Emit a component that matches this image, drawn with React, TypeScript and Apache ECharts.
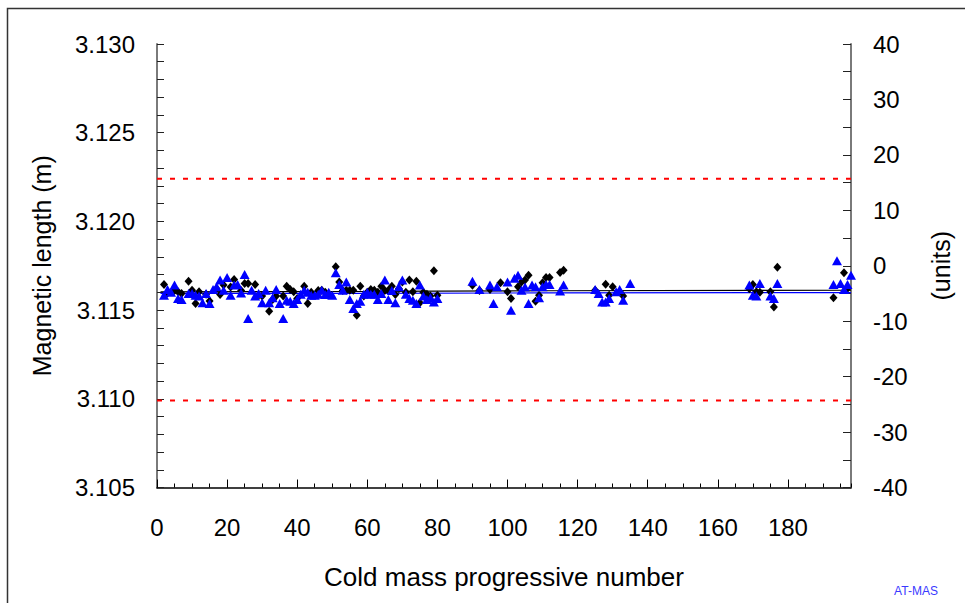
import React, { useEffect, useRef } from "react";
import * as echarts from "echarts";

const FONT = "'Liberation Sans', Arial, Helvetica, sans-serif";

// Black diamonds: cold mass number and magnetic length (m)
const diamondMass = [
  2, 3, 5, 6, 7, 9, 10, 11, 12, 14, 15, 17, 18, 19, 21, 22, 24, 25, 26, 28, 29, 30, 32, 33, 34, 36, 37, 38, 39, 40,
  42, 43, 44, 46, 47, 48, 49, 51, 52, 53, 54, 55, 56, 57, 58, 59, 60, 61, 62, 63, 64, 65, 66, 67, 68, 69, 70, 71, 72,
  73, 74, 75, 76, 77, 78, 79, 80, 90, 92, 95, 98, 100, 101, 103, 104, 105, 106, 108, 109, 110, 111, 112, 115, 116,
  125, 128, 129, 130, 132, 133, 169, 170, 171, 172, 175, 176, 177, 193, 196, 197,
];
const diamondLength = [
  3.11645, 3.11597, 3.1161, 3.11603, 3.11594, 3.11663, 3.11612, 3.11537, 3.11603, 3.1159, 3.11552, 3.1162, 3.11588,
  3.11641, 3.1163, 3.11673, 3.1161, 3.1165, 3.1165, 3.11645, 3.11584, 3.1158, 3.11494, 3.1156, 3.11579, 3.1158,
  3.11635, 3.11616, 3.11603, 3.11566, 3.11635, 3.11537, 3.116, 3.1161, 3.11612, 3.116, 3.1159, 3.11744, 3.11659,
  3.1161, 3.11612, 3.11612, 3.11612, 3.11471, 3.11635, 3.1158, 3.116, 3.11616, 3.11612, 3.116, 3.11635, 3.1161,
  3.11612, 3.11635, 3.11588, 3.1162, 3.11659, 3.116, 3.11669, 3.11603, 3.11663, 3.11541, 3.116, 3.1159, 3.1158,
  3.11722, 3.11584, 3.1164, 3.1161, 3.11616, 3.11654, 3.11603, 3.11566, 3.11631, 3.11659, 3.11669, 3.11697, 3.1155,
  3.11584, 3.11654, 3.11684, 3.11684, 3.11712, 3.11725, 3.11612, 3.11646, 3.11584, 3.11631, 3.11603, 3.11579,
  3.1162, 3.11645, 3.11603, 3.116, 3.11603, 3.11518, 3.11741, 3.11569, 3.1171, 3.11622,
];

// Blue triangles: cold mass number and magnetic length (m)
const triangleMass = [
  2, 3, 4, 5, 6, 7, 9, 10, 11, 12, 13, 14, 15, 16, 17, 18, 19, 20, 21, 22, 23, 24, 25, 26, 27, 28, 29, 30, 31, 32, 33,
  34, 35, 36, 37, 38, 39, 40, 41, 42, 43, 44, 45, 46, 47, 48, 49, 50, 51, 52, 53, 54, 55, 56, 57, 58, 59, 60, 61, 62,
  63, 64, 65, 66, 67, 68, 69, 70, 71, 72, 73, 74, 75, 76, 77, 78, 79, 80, 90, 92, 95, 96, 97, 100, 101, 102, 103, 104,
  105, 106, 107, 108, 109, 110, 111, 112, 115, 116, 125, 126, 127, 128, 129, 131, 132, 133, 135, 169, 170, 171, 172,
  175, 176, 177, 193, 194, 195, 196, 197, 198,
];
const triangleLength = [
  3.11584, 3.11616, 3.116, 3.11641, 3.11566, 3.1156, 3.11594, 3.11594, 3.11584, 3.1158, 3.11541, 3.11594, 3.11537,
  3.11616, 3.11631, 3.11669, 3.11612, 3.11684, 3.11584, 3.11641, 3.11645, 3.11597, 3.11701, 3.11453, 3.11612,
  3.1158, 3.11594, 3.11541, 3.11612, 3.11541, 3.1157, 3.11616, 3.11537, 3.11453, 3.11556, 3.1155, 3.11537, 3.1156,
  3.1159, 3.11612, 3.116, 3.11584, 3.11584, 3.1159, 3.11612, 3.11588, 3.116, 3.11584, 3.1171, 3.11645, 3.11612,
  3.11659, 3.1156, 3.11509, 3.11537, 3.1155, 3.1159, 3.116, 3.1159, 3.1159, 3.1156, 3.11594, 3.11669, 3.1156,
  3.1161, 3.11541, 3.11631, 3.11669, 3.1159, 3.11566, 3.11556, 3.11537, 3.11641, 3.1158, 3.1156, 3.1157, 3.11546,
  3.11566, 3.11663, 3.11616, 3.11641, 3.11537, 3.11631, 3.11659, 3.11499, 3.11679, 3.11697, 3.11612, 3.1163,
  3.11537, 3.11641, 3.11631, 3.11569, 3.11631, 3.11645, 3.11645, 3.11608, 3.11641, 3.11616, 3.11594, 3.11546,
  3.11546, 3.11566, 3.11603, 3.11616, 3.11556, 3.1165, 3.11641, 3.11584, 3.11579, 3.1165, 3.11579, 3.11566, 3.1165,
  3.11645, 3.11778, 3.1165, 3.11616, 3.11645, 3.11697,
];

// Mean lines
const trendMass = [1, 60, 110, 198];
const blackTrend = [3.11603, 3.11605, 3.11609, 3.11612];
const blueTrend = [3.11594, 3.11594, 3.11597, 3.11599];

// Tolerance limits (m)
const limitMass = [0, 198];
const upperLimit = 3.1224;
const lowerLimit = 3.1099;

const pairs = (xs: number[], ys: number[]) => xs.map((x, i) => [x, ys[i]]);

export default function App() {
  const ref = useRef<HTMLDivElement>(null);
  useEffect(() => {
    const chart = echarts.init(ref.current!, null, { renderer: "svg" });
    const labelStyle = { fontSize: 24, color: "#000", fontFamily: FONT };
    const yLineStyle = { color: "#7a7a7a", width: 2 };
    chart.setOption({
      animation: false,
      backgroundColor: "#fff",
      grid: { left: 157, right: 114, top: 44, bottom: 115.5, containLabel: false, outerBoundsMode: "none" },
      xAxis: [
        {
          type: "value",
          min: 0,
          max: 198,
          interval: 20,
          position: "bottom",
          axisLine: { show: true, onZero: false, lineStyle: { color: "#000", width: 1.5 } },
          axisTick: { show: true, inside: true, length: 8, lineStyle: { color: "#000", width: 1 } },
          axisLabel: { ...labelStyle, margin: 28, showMaxLabel: false },
          splitLine: { show: false },
          name: "Cold mass progressive number",
          nameLocation: "middle",
          nameGap: 76,
          nameTextStyle: { fontSize: 26, color: "#000", fontFamily: FONT },
        },
        {
          type: "value",
          min: 0,
          max: 198,
          interval: 5,
          position: "bottom",
          axisLine: { show: false, onZero: false },
          axisTick: { show: true, inside: true, length: 4, lineStyle: { color: "#000", width: 1 } },
          axisLabel: { show: false },
          splitLine: { show: false },
        },
      ],
      yAxis: [
        {
          type: "value",
          min: 3.105,
          max: 3.13,
          interval: 0.005,
          position: "left",
          axisLine: { show: true, onZero: false, lineStyle: yLineStyle },
          axisTick: { show: true, inside: true, length: 7, lineStyle: { color: "#222", width: 1 } },
          minorTick: { show: true, splitNumber: 5, length: 7, lineStyle: { color: "#222", width: 1 } },
          axisLabel: { ...labelStyle, margin: 22, formatter: (v: number) => v.toFixed(3) },
          splitLine: { show: false },
          minorSplitLine: { show: false },
          name: "Magnetic length (m)",
          nameLocation: "middle",
          nameGap: 103,
          nameTextStyle: { fontSize: 25, color: "#000", fontFamily: FONT },
        },
        {
          type: "value",
          min: -40,
          max: 40,
          interval: 10,
          position: "right",
          axisLine: { show: true, onZero: false, lineStyle: yLineStyle },
          axisTick: { show: true, inside: true, length: 8, lineStyle: { color: "#222", width: 1 } },
          minorTick: { show: true, splitNumber: 2, length: 8, lineStyle: { color: "#222", width: 1 } },
          axisLabel: { ...labelStyle, margin: 22 },
          splitLine: { show: false },
          minorSplitLine: { show: false },
          name: "(units)",
          nameLocation: "middle",
          nameGap: 77,
          nameTextStyle: { fontSize: 25, color: "#000", fontFamily: FONT },
        },
      ],
      graphic: [
        {
          type: "rect",
          shape: { x: 7.5, y: 8.5, width: 1000, height: 700 },
          style: { fill: "none", stroke: "#333", lineWidth: 1.5 },
          silent: true,
          z: 100,
        },
        {
          type: "text",
          x: 916,
          y: 591,
          style: {
            text: "AT-MAS",
            fontSize: 12,
            fontFamily: FONT,
            fill: "#3a3aff",
            align: "center",
            verticalAlign: "middle",
          },
        },
      ],
      series: [
        {
          type: "line",
          data: pairs(trendMass, blackTrend),
          symbol: "none",
          lineStyle: { color: "#000", width: 1.2 },
          z: 1,
        },
        {
          type: "line",
          data: pairs(trendMass, blueTrend),
          symbol: "none",
          lineStyle: { color: "#0000ff", width: 1.2 },
          z: 1,
        },
        {
          type: "line",
          data: limitMass.map((x) => [x, upperLimit]),
          symbol: "none",
          lineStyle: { color: "#ff0000", width: 2, type: [5, 8] },
          z: 1,
        },
        {
          type: "line",
          data: limitMass.map((x) => [x, lowerLimit]),
          symbol: "none",
          lineStyle: { color: "#ff0000", width: 2, type: [5, 8] },
          z: 1,
        },
        {
          type: "scatter",
          data: pairs(diamondMass, diamondLength),
          symbol: "diamond",
          symbolSize: [8, 9],
          itemStyle: { color: "#000", opacity: 1 },
          clip: false,
          z: 2,
        },
        {
          type: "scatter",
          data: pairs(triangleMass, triangleLength),
          symbol: "triangle",
          symbolSize: [10, 9],
          itemStyle: { color: "#0000ff", opacity: 1 },
          clip: false,
          z: 3,
        },
      ],
    });
    return () => chart.dispose();
  }, []);
  return (
    <div
      ref={ref}
      style={{ position: "fixed", left: 0, top: 0, width: 965, height: 603, background: "#fff" }}
    />
  );
}
